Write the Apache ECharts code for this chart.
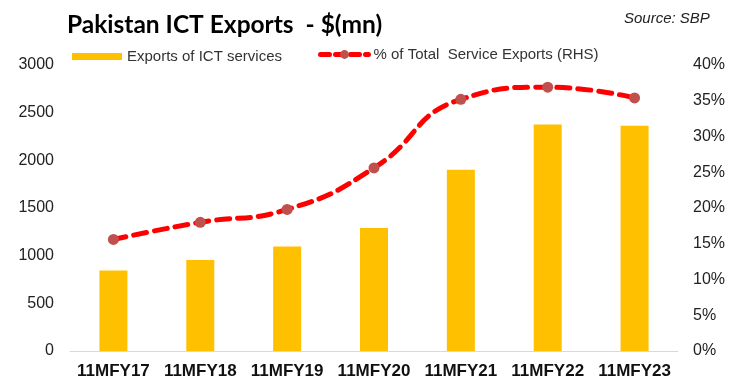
<!DOCTYPE html>
<html>
<head>
<meta charset="utf-8">
<script src="https://cdn.jsdelivr.net/npm/echarts@6/dist/echarts.min.js"></script>
<style>html,body{margin:0;padding:0;background:#fff}#c{width:733px;height:386px}</style>
</head>
<body>
<div id="c"></div>
<script>
var categories = ['11MFY17','11MFY18','11MFY19','11MFY20','11MFY21','11MFY22','11MFY23'];
var ictExports = [845, 955, 1095, 1290, 1900, 2375, 2362];
var shareOfServices = [0.156, 0.180, 0.198, 0.256, 0.352, 0.369, 0.354];
var leftTicks = {min: 0, max: 3000, interval: 500};
var rightTicks = {min: 0, max: 0.4, interval: 0.05};

var chart = echarts.init(document.getElementById('c'));
chart.setOption({
  animation: false,
  title: [{
    text: 'Pakistan ICT Exports  - $(mn)',
    left: 62, top: 8,
    textStyle: {fontFamily: 'Lato', fontWeight: 'bold', fontSize: 24.5, color: '#000'}
  }, {
    text: 'Source: SBP',
    left: 619, top: 6,
    textStyle: {fontFamily: 'Liberation Sans', fontStyle: 'italic', fontWeight: 'normal', fontSize: 15, color: '#222'}
  }],
  legend: [{
    left: 67, top: 44,
    itemWidth: 50, itemHeight: 7,
    textStyle: {fontFamily: 'Liberation Sans', fontSize: 15, color: '#333'},
    data: [{name: 'Exports of ICT services', icon: 'rect'}]
  }, {
    left: 313, top: 42,
    itemWidth: 48, itemHeight: 11,
    textStyle: {fontFamily: 'Liberation Sans', fontSize: 15, color: '#333'},
    data: [{name: '% of Total  Service Exports (RHS)', itemStyle: {color: '#C0504D'}, lineStyle: {width: 5, color: '#FF0000', type: [9, 6]}}]
  }],
  grid: {left: 70, right: 55, top: 65, bottom: 35},
  xAxis: {
    type: 'category', data: categories,
    axisLine: {lineStyle: {color: '#d9d9d9', width: 1}},
    axisTick: {show: false},
    axisLabel: {interval: 0, fontFamily: 'Liberation Sans', fontWeight: 'bold', fontSize: 17, color: '#111', margin: 12}
  },
  yAxis: [{
    type: 'value', min: leftTicks.min, max: leftTicks.max, interval: leftTicks.interval,
    splitLine: {show: false}, axisLine: {show: false}, axisTick: {show: false},
    axisLabel: {fontFamily: 'Liberation Sans', fontSize: 16, color: '#222', margin: 16,
      formatter: function (v) { return String(v); }}
  }, {
    type: 'value', min: rightTicks.min, max: rightTicks.max, interval: rightTicks.interval,
    position: 'right',
    splitLine: {show: false}, axisLine: {show: false}, axisTick: {show: false},
    axisLabel: {fontFamily: 'Liberation Sans', fontSize: 16, color: '#222', margin: 15,
      formatter: function (v) { return Math.round(v * 100) + '%'; }}
  }],
  series: [{
    name: 'Exports of ICT services', type: 'bar', data: ictExports,
    barWidth: 28, itemStyle: {color: '#FFC000'}
  }, {
    name: '% of Total  Service Exports (RHS)', type: 'line', yAxisIndex: 1,
    data: shareOfServices, smooth: 0.5,
    symbol: 'circle', symbolSize: 11,
    itemStyle: {color: '#C0504D'},
    lineStyle: {color: '#FF0000', width: 5, type: [13, 8], cap: 'round'},
    z: 3
  }]
});
</script>
</body>
</html>
